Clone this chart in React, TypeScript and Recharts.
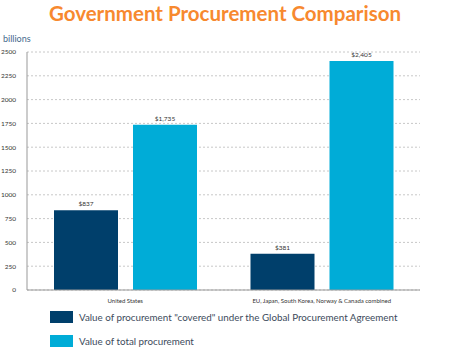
import React from 'react';
import { BarChart, Bar, XAxis, YAxis, CartesianGrid, LabelList } from 'recharts';

const categories = ['United States', 'EU, Japan, South Korea, Norway & Canada combined'];
const coveredValues = [837, 381];
const totalValues = [1735, 2405];
const yTicks = [0, 250, 500, 750, 1000, 1250, 1500, 1750, 2000, 2250, 2500];
const seriesNames = ['Value of procurement "covered" under the Global Procurement Agreement', 'Value of total procurement'];
const colors = ['#003f6b', '#00acd7'];

const data = categories.map((c, i) => ({ name: c, covered: coveredValues[i], total: totalValues[i] }));

const fmt = (v: number) => '$' + v.toLocaleString('en-US');

export default function App() {
  return (
    <div style={{ position: 'absolute', left: 0, top: 0, width: 474, height: 357, background: '#fff', fontFamily: 'Lato, "Open Sans", sans-serif' }}>
      <div style={{ position: 'absolute', left: 0, top: 2.5, width: 450, height: 22, lineHeight: '20px', textAlign: 'center', fontSize: 20.5, fontWeight: 700, color: '#f7892f', fontFamily: 'Lato, sans-serif', whiteSpace: 'nowrap' }}>
        Government Procurement Comparison
      </div>
      <div style={{ position: 'absolute', left: 3, top: 33, fontSize: 9, color: '#46698c' }}>billions</div>
      <BarChart
        width={474}
        height={305}
        data={data}
        margin={{ top: 52, right: 54, left: 0, bottom: 0 }}
        barCategoryGap={27}
        barGap={15}
      >
        <CartesianGrid vertical={false} stroke="#c8c8c8" strokeDasharray="2 2" />
        <XAxis
          dataKey="name"
          height={15}
          tickLine={false}
          axisLine={{ stroke: '#999' }}
          tick={{ fontSize: 6, fill: '#333' }}
          tickMargin={3}
          interval={0}
        />
        <YAxis
          width={27}
          domain={[0, 2500]}
          ticks={yTicks}
          tickLine={false}
          axisLine={{ stroke: '#999' }}
          tick={{ fontSize: 6.5, fill: '#333' }}
          tickMargin={5}
          interval={0}
        />
        <Bar dataKey="covered" fill={colors[0]} isAnimationActive={false}>
          <LabelList dataKey="covered" position="top" formatter={fmt} style={{ fontSize: 6.5, fill: '#333' }} offset={4} />
        </Bar>
        <Bar dataKey="total" fill={colors[1]} isAnimationActive={false}>
          <LabelList dataKey="total" position="top" formatter={fmt} style={{ fontSize: 6.5, fill: '#333' }} offset={4} />
        </Bar>
      </BarChart>
      <div style={{ position: 'absolute', left: 50, top: 310 }}>
        {seriesNames.map((n, i) => (
          <div key={n} style={{ display: 'flex', alignItems: 'center', height: 13, marginBottom: 11 }}>
            <div style={{ width: 23, height: 12, background: colors[i], marginRight: 6 }} />
            <span style={{ fontSize: 9.8, color: '#3d4b5c' }}>{n}</span>
          </div>
        ))}
      </div>
    </div>
  );
}
